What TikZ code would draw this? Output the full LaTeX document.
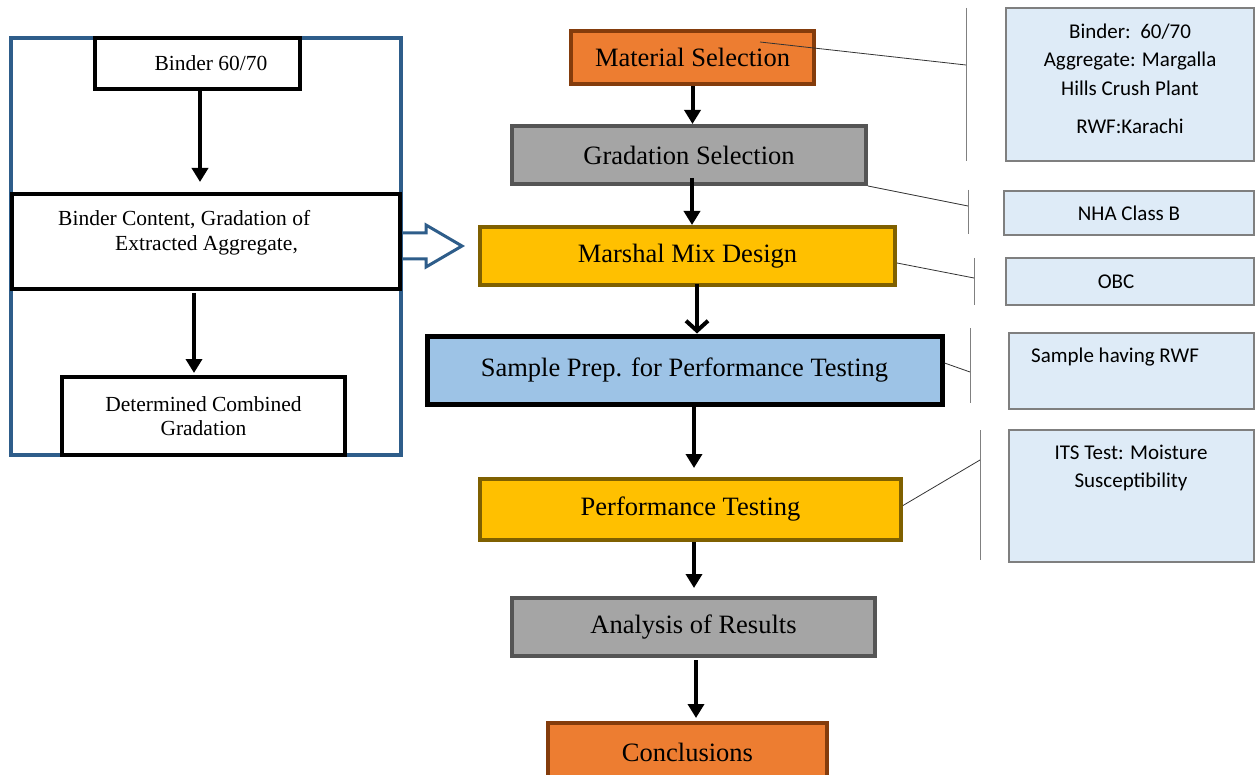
\documentclass[tikz,border=0pt]{standalone}
\usepackage{fontspec}
\setmainfont{Liberation Serif}
\newfontfamily\calibrifont{Carlito}
\usetikzlibrary{arrows.meta,calc}
\definecolor{orfill}{HTML}{ED7D31}
\definecolor{ordraw}{HTML}{843C0C}
\definecolor{gyfill}{HTML}{A5A5A5}
\definecolor{gydraw}{HTML}{555555}
\definecolor{gdfill}{HTML}{FFC000}
\definecolor{gddraw}{HTML}{7F6000}
\definecolor{bufill}{HTML}{9DC3E6}
\definecolor{cbfill}{HTML}{DEEBF7}
\definecolor{cbdraw}{HTML}{7F7F7F}
\definecolor{frame}{HTML}{2E5D8A}
\begin{document}
\begin{tikzpicture}[x=1pt,y=-1pt,
  lbox/.style={draw=black, fill=white, line width=4pt, inner sep=0pt, font=\fontsize{21.5}{25}\selectfont, align=center},
  mbox/.style={rectangle, inner sep=0pt, line width=4pt, font=\fontsize{26.5}{30}\selectfont},
  orbox/.style={mbox, fill=orfill, draw=ordraw},
  gybox/.style={mbox, fill=gyfill, draw=gydraw},
  gdbox/.style={mbox, fill=gdfill, draw=gddraw},
  bubox/.style={mbox, fill=bufill, draw=black, line width=5pt},
  cbox/.style={rectangle, draw=cbdraw, fill=cbfill, line width=1.2pt, inner sep=0pt, font=\calibrifont\fontsize{21}{24}\selectfont},
  ctext/.style={inner sep=0pt, font=\calibrifont\fontsize{21}{28.5}\selectfont, align=center},
  ltext/.style={inner sep=0pt, font=\fontsize{21.5}{25}\selectfont},
  arr/.style={line width=4pt, -{Triangle[length=14pt,width=16pt]}},
  openarr/.style={line width=4pt, -{Straight Barb[length=10pt,width=22pt]}},
  hollow/.style={draw=frame, fill=white, line width=3pt, line join=miter},
  vline/.style={draw=gray, line width=1pt},
  leader/.style={draw=black!80, line width=0.8pt}
]
\useasboundingbox (0,0) rectangle (1257,775);

% left panel
\draw[frame, line width=4pt] (11,38) rectangle (401,455);
\node[lbox, minimum width=205pt, minimum height=51pt] (b1) at (197.5,63.5) {\hspace*{27pt}Binder 60/70};
\node[lbox, minimum width=388pt, minimum height=95pt] (bc) at (206,241.5) {};
\node[ltext, anchor=base west] (bct1) at (58,226) {Binder Content, Gradation of};
\node[ltext, anchor=base west] (bct2) at (115,251) {Extracted Aggregate,};
\node[lbox, minimum width=283pt, minimum height=78pt] (dc) at (203.5,416) {Determined Combined\\[-1pt]Gradation};
\draw[arr] ([shift={(2.5,0)}]b1.south) -- ([shift={(-6,-10)}]bc.north);
\draw[arr] ([shift={(-12,2)}]bc.south) -- ([shift={(-9.5,-2)}]dc.north);
\draw[hollow] ([shift={(1,-8.5)}]bc.east) -- ++(23,0) -- ++(0,-8) -- ++(36,21) -- ++(-36,21) -- ++(0,-8) -- ++(-23,0);

% centre flow
\node[orbox, minimum width=243pt, minimum height=53pt] (ms) at (692.5,57.5) {Material Selection};
\node[gybox, minimum width=354pt, minimum height=58pt] (gs) at (689,155) {Gradation Selection};
\node[gdbox, minimum width=415pt, minimum height=58pt] (mm) at (687.5,256) {Marshal Mix Design};
\node[bubox, minimum width=515pt, minimum height=68pt] (sp) at (684.5,370) {Sample Prep. for Performance Testing};
\node[gdbox, minimum width=421pt, minimum height=61pt] (pt) at (690.5,509.5) {Performance Testing};
\node[gybox, minimum width=363pt, minimum height=58pt] (ar) at (693.5,627) {Analysis of Results};
\node[orbox, minimum width=279pt, minimum height=64pt] (cc) at (687.5,755) {};
\node[inner sep=0pt, font=\fontsize{26.5}{30}\selectfont] (cct) at (687.5,752) {Conclusions};

\draw[arr] (ms.south) -- ([shift={(3.5,0)}]gs.north);
\draw[arr] ([shift={(3,-8)}]gs.south) -- ([shift={(4.5,0)}]mm.north);
\draw[openarr] ([shift={(9.5,-3)}]mm.south) -- ([shift={(12.5,0)}]sp.north);
\draw[arr] ([shift={(9.5,0)}]sp.south) -- ([shift={(3.5,-9)}]pt.north);
\draw[arr] ([shift={(3.5,0)}]pt.south) -- ([shift={(0.5,-8)}]ar.north);
\draw[arr] ([shift={(2.5,2)}]ar.south) -- ([shift={(8.5,-3)}]cc.north);

% callouts
\node[cbox, minimum width=248pt, minimum height=153pt] (c1) at (1130,84.5) {};
\node[ctext] (c1t) at (1130,79) {Binder:\ \ 60/70\\Aggregate: Margalla\\Hills Crush Plant\\[10pt]RWF:Karachi};
\node[cbox, minimum width=250pt, minimum height=44pt] (c2) at (1129,213) {NHA Class B};
\node[cbox, minimum width=248pt, minimum height=47pt] (c3) at (1130,281.5) {OBC\hspace*{28pt}};
\node[cbox, minimum width=245pt, minimum height=76pt] (c4) at (1131.5,371) {};
\node[ctext, anchor=base west] (c4t) at (1031,362) {Sample having RWF};
\node[cbox, minimum width=245pt, minimum height=132pt] (c5) at (1131.5,496) {};
\node[ctext] (c5t) at (1131,468) {ITS Test: Moisture\\Susceptibility};

\coordinate (v1t) at (966,8);   \coordinate (v1b) at (966,161); \coordinate (v1m) at (966,65);
\coordinate (v2t) at (968,190); \coordinate (v2b) at (968,234); \coordinate (v2m) at (968,206);
\coordinate (v3t) at (974,258); \coordinate (v3b) at (974,305); \coordinate (v3m) at (974,278);
\coordinate (v4t) at (970,328); \coordinate (v4b) at (970,403); \coordinate (v4m) at (970,372);
\coordinate (v5t) at (980,430); \coordinate (v5b) at (980,560); \coordinate (v5m) at (980,460);
\draw[vline] (v1t) -- (v1b);
\draw[vline] (v2t) -- (v2b);
\draw[vline] (v3t) -- (v3b);
\draw[vline] (v4t) -- (v4b);
\draw[vline] (v5t) -- (v5b);
\draw[leader] ([shift={(67.5,-15.5)}]ms.center) -- (v1m);
\draw[leader] (gs.south east) -- (v2m);
\draw[leader] ([shift={(0,7)}]mm.east) -- (v3m);
\draw[leader] ([shift={(0,-7)}]sp.east) -- (v4m);
\draw[leader] ([shift={(0,-4)}]pt.east) -- (v5m);
\end{tikzpicture}
\end{document}
